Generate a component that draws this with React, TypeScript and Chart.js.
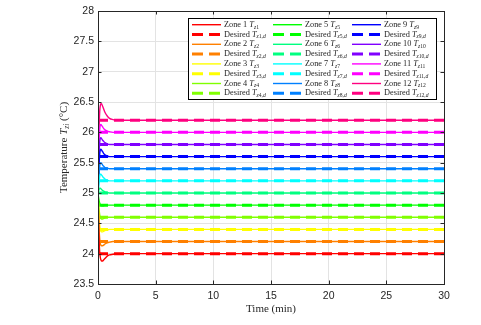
import React, { useEffect, useRef } from "react";
import { Chart, registerables } from "chart.js";

Chart.register(...registerables);

const TIME = [0, 0.05, 0.1, 0.15, 0.2, 0.25, 0.3, 0.4, 0.5, 0.6, 0.8, 1.0, 1.3, 1.6, 2.0, 30];

const ZONE1 = [25.0, 24.5, 24.2, 24.02, 23.94, 23.9, 23.88, 23.88, 23.9, 23.92, 23.96, 23.98, 23.99, 24.0, 24.0, 24.0];
const ZONE2 = [25.0, 24.62, 24.38, 24.24, 24.17, 24.14, 24.13, 24.13, 24.14, 24.16, 24.18, 24.19, 24.2, 24.2, 24.2, 24.2];
const ZONE3 = [25.0, 24.75, 24.56, 24.46, 24.4, 24.37, 24.36, 24.36, 24.37, 24.38, 24.39, 24.4, 24.4, 24.4, 24.4, 24.4];
const ZONE4 = [25.0, 24.85, 24.72, 24.64, 24.6, 24.58, 24.57, 24.57, 24.58, 24.59, 24.6, 24.6, 24.6, 24.6, 24.6, 24.6];
const ZONE5 = [25.0, 24.93, 24.87, 24.83, 24.81, 24.8, 24.79, 24.79, 24.79, 24.8, 24.8, 24.8, 24.8, 24.8, 24.8, 24.8];
const ZONE6 = [25.0, 25.03, 25.06, 25.08, 25.08, 25.07, 25.06, 25.04, 25.03, 25.02, 25.01, 25.0, 25.0, 25.0, 25.0, 25.0];
const ZONE7 = [25.0, 25.08, 25.2, 25.28, 25.31, 25.31, 25.3, 25.27, 25.25, 25.23, 25.21, 25.2, 25.2, 25.2, 25.2, 25.2];
const ZONE8 = [25.0, 25.15, 25.33, 25.45, 25.49, 25.5, 25.49, 25.46, 25.44, 25.42, 25.41, 25.4, 25.4, 25.4, 25.4, 25.4];
const ZONE9 = [25.0, 25.25, 25.5, 25.65, 25.71, 25.72, 25.71, 25.68, 25.65, 25.63, 25.61, 25.6, 25.6, 25.6, 25.6, 25.6];
const ZONE10 = [25.0, 25.35, 25.68, 25.84, 25.9, 25.91, 25.9, 25.87, 25.85, 25.83, 25.81, 25.8, 25.8, 25.8, 25.8, 25.8];
const ZONE11 = [25.0, 25.45, 25.85, 26.05, 26.12, 26.13, 26.12, 26.09, 26.06, 26.04, 26.02, 26.01, 26.0, 26.0, 26.0, 26.0];
const ZONE12 = [25.0, 25.6, 26.1, 26.35, 26.44, 26.47, 26.47, 26.43, 26.38, 26.33, 26.27, 26.23, 26.21, 26.2, 26.2, 26.2];

const ZONES = [ZONE1, ZONE2, ZONE3, ZONE4, ZONE5, ZONE6, ZONE7, ZONE8, ZONE9, ZONE10, ZONE11, ZONE12];
const DESIRED = [24.0, 24.2, 24.4, 24.6, 24.8, 25.0, 25.2, 25.4, 25.6, 25.8, 26.0, 26.2];
const DESIRED_TIME = [0, 30];
const ZONE_NAMES = ["1", "2", "3", "4", "5", "6", "7", "8", "9", "10", "11", "12"];

const COLORS = [
  "#ff0000", "#ff8000", "#ffff00", "#80ff00", "#00ff00", "#00ff80",
  "#00ffff", "#0080ff", "#0000ff", "#8000ff", "#ff00ff", "#ff0080",
];

const X_TICKS = [0, 5, 10, 15, 20, 25, 30];
const Y_MIN = 23.5;
const Y_MAX = 28;

const SERIF = "'Liberation Serif', 'DejaVu Serif', serif";
const SANS = "'Liberation Sans', Arial, sans-serif";
const TEXT = "#262626";

type Part = { t: string; it?: boolean; sub?: boolean };

function drawRich(ctx: CanvasRenderingContext2D, x: number, y: number, parts: Part[], size: number) {
  let cx = x;
  for (const p of parts) {
    const s = p.sub ? size * 0.68 : size;
    ctx.font = `${p.it ? "italic " : ""}${s}px ${SERIF}`;
    const dy = p.sub ? size * 0.28 : 0;
    ctx.fillText(p.t, cx, y + dy);
    cx += ctx.measureText(p.t).width;
  }
  return cx - x;
}

function measureRich(ctx: CanvasRenderingContext2D, parts: Part[], size: number) {
  let w = 0;
  for (const p of parts) {
    const s = p.sub ? size * 0.68 : size;
    ctx.font = `${p.it ? "italic " : ""}${s}px ${SERIF}`;
    w += ctx.measureText(p.t).width;
  }
  return w;
}

const decorPlugin = {
  id: "decor",
  afterDraw(chart: any) {
    const ctx: CanvasRenderingContext2D = chart.ctx;
    const { left, right, top, bottom } = chart.chartArea;
    const xs = chart.scales.x;
    const ys = chart.scales.y;
    ctx.save();
    // box
    ctx.strokeStyle = TEXT;
    ctx.lineWidth = 1;
    ctx.beginPath();
    ctx.rect(Math.round(left) + 0.5, Math.round(top) + 0.5, Math.round(right - left), Math.round(bottom - top));
    ctx.stroke();
    // inward ticks
    ctx.beginPath();
    for (const v of X_TICKS) {
      const px = Math.round(xs.getPixelForValue(v)) + 0.5;
      ctx.moveTo(px, bottom);
      ctx.lineTo(px, bottom - 3.5);
      ctx.moveTo(px, top);
      ctx.lineTo(px, top + 3.5);
    }
    for (let v = Y_MIN; v <= Y_MAX + 1e-9; v += 0.5) {
      const py = Math.round(ys.getPixelForValue(v)) + 0.5;
      ctx.moveTo(left, py);
      ctx.lineTo(left + 3.5, py);
      ctx.moveTo(right, py);
      ctx.lineTo(right - 3.5, py);
    }
    ctx.stroke();

    // legend
    const bx = 188.5, by = 18.5, bw = 248, bh = 81;
    ctx.fillStyle = "#ffffff";
    ctx.fillRect(bx, by, bw, bh);
    ctx.strokeStyle = "#000000";
    ctx.lineWidth = 1;
    ctx.strokeRect(bx, by, bw, bh);
    const colLine = [192, 273, 352];
    const lineLen = 29;
    const fs = 8.3;
    ctx.textBaseline = "middle";
    ctx.fillStyle = TEXT;
    for (let i = 0; i < 12; i++) {
      const col = Math.floor(i / 4);
      const r = (i % 4) * 2;
      const x0 = colLine[col];
      const yA = 24.7 + r * 9.8;
      const yD = 24.7 + (r + 1) * 9.8;
      ctx.strokeStyle = COLORS[i];
      ctx.setLineDash([]);
      ctx.lineWidth = 1.4;
      ctx.beginPath();
      ctx.moveTo(x0, yA);
      ctx.lineTo(x0 + lineLen, yA);
      ctx.stroke();
      ctx.setLineDash([11, 6]);
      ctx.lineWidth = 3;
      ctx.beginPath();
      ctx.moveTo(x0, yD);
      ctx.lineTo(x0 + lineLen, yD);
      ctx.stroke();
      ctx.setLineDash([]);
      ctx.fillStyle = TEXT;
      const n = ZONE_NAMES[i];
      drawRich(ctx, x0 + lineLen + 3, yA, [
        { t: `Zone ${n} ` },
        { t: "T", it: true },
        { t: "z", it: true, sub: true },
        { t: n, sub: true },
      ], fs);
      drawRich(ctx, x0 + lineLen + 3, yD, [
        { t: "Desired " },
        { t: "T", it: true },
        { t: "z", it: true, sub: true },
        { t: `${n},`, sub: true },
        { t: "d", it: true, sub: true },
      ], fs);
    }

    // x title
    ctx.fillStyle = TEXT;
    ctx.textBaseline = "middle";
    ctx.font = `11px ${SERIF}`;
    ctx.textAlign = "center";
    ctx.fillText("Time (min)", (left + right) / 2, 309);

    // y title
    ctx.save();
    ctx.translate(64, (top + bottom) / 2);
    ctx.rotate(-Math.PI / 2);
    ctx.textAlign = "left";
    const yParts: Part[] = [
      { t: "Temperature " },
      { t: "T", it: true },
      { t: "zi", it: true, sub: true },
      { t: " (°C)" },
    ];
    const w = measureRich(ctx, yParts, 11);
    drawRich(ctx, -w / 2, 0, yParts, 11);
    ctx.restore();

    ctx.restore();
  },
};

export default function App() {
  const ref = useRef<HTMLCanvasElement | null>(null);
  useEffect(() => {
    if (!ref.current) return;
    const datasets: any[] = [];
    for (let i = 0; i < 12; i++) {
      datasets.push({
        label: `Zone ${ZONE_NAMES[i]}`,
        data: TIME.map((t, k) => ({ x: t, y: ZONES[i][k] })),
        borderColor: COLORS[i],
        backgroundColor: COLORS[i],
        borderWidth: 1.4,
        pointRadius: 0,
        cubicInterpolationMode: "monotone",
        fill: false,
        order: 1,
      });
      datasets.push({
        label: `Desired ${ZONE_NAMES[i]}`,
        data: DESIRED_TIME.map((t) => ({ x: t, y: DESIRED[i] })),
        borderColor: COLORS[i],
        backgroundColor: COLORS[i],
        borderWidth: 3,
        borderDash: [10, 6],
        pointRadius: 0,
        fill: false,
        order: 2,
      });
    }
    const chart = new Chart(ref.current, {
      type: "line",
      data: { datasets },
      plugins: [decorPlugin],
      options: {
        animation: false,
        responsive: false,
        maintainAspectRatio: false,
        layout: { padding: { left: 0, top: 11, right: 37, bottom: 0 } },
        plugins: { legend: { display: false }, tooltip: { enabled: false } },
        scales: {
          x: {
            type: "linear",
            min: 0,
            max: 30,
            afterBuildTicks: (s: any) => { s.ticks = X_TICKS.map((v) => ({ value: v })); },
            afterFit: (s: any) => { s.height = 41; },
            grid: { color: "#e3e3e3", lineWidth: 1, drawTicks: false },
            border: { display: true, color: TEXT, width: 1 },
            ticks: { color: TEXT, font: { family: SANS, size: 10.5 }, padding: 6, maxRotation: 0, callback: (v: any) => String(Number(v)) },
          },
          y: {
            type: "linear",
            min: Y_MIN,
            max: Y_MAX,
            afterFit: (s: any) => { s.width = 98; },
            grid: { color: "#e3e3e3", lineWidth: 1, drawTicks: false },
            border: { display: true, color: TEXT, width: 1 },
            ticks: { stepSize: 0.5, color: TEXT, font: { family: SANS, size: 10.5 }, padding: 4, callback: (v: any) => String(Math.round(Number(v) * 10) / 10) },
          },
        },
      },
    });
    return () => chart.destroy();
  }, []);
  return (
    <div style={{ position: "absolute", left: 0, top: 0, width: 481, height: 325, background: "#fff" }}>
      <canvas ref={ref} width={481} height={325} style={{ width: 481, height: 325 }} />
    </div>
  );
}
